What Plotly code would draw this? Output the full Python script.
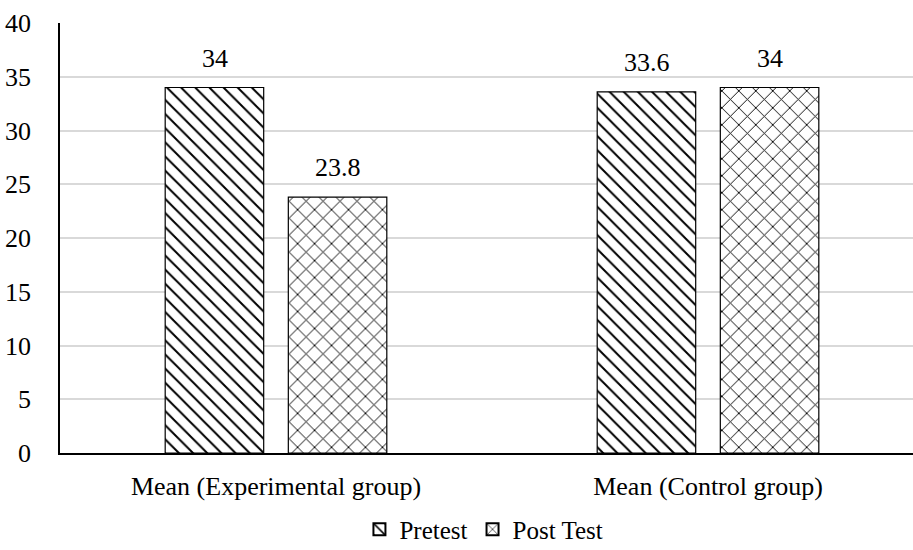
import plotly.graph_objects as go

categories = ["Mean (Experimental group)", "Mean (Control group)"]
pretest = [34, 33.6]
posttest = [23.8, 34]
series_names = ["Pretest", "Post Test"]
y_ticks = [0, 5, 10, 15, 20, 25, 30, 35, 40]

FONT = "'Times New Roman', 'Liberation Serif', serif"
fs = 26

fig = go.Figure()
fig.add_trace(go.Bar(
    name=series_names[0], x=categories, y=pretest,
    marker=dict(color="white", line=dict(color="black", width=1.2),
                pattern=dict(shape="\\", fgcolor="black", bgcolor="white", size=10,
                             solidity=0.2, fgopacity=1)),
))
fig.add_trace(go.Bar(
    name=series_names[1], x=categories, y=posttest,
    marker=dict(color="white", line=dict(color="black", width=1.2),
                pattern=dict(shape="x", fgcolor="black", bgcolor="white", size=12,
                             solidity=0.15, fgopacity=1)),
))

# value labels above bars (offset to each bar's slot within the group)
slot_px = 61.5
for series, shift in ((pretest, -slot_px), (posttest, slot_px)):
    for cat, v in zip(categories, series):
        fig.add_annotation(x=cat, y=v, text=f"{v:g}", showarrow=False,
                           xshift=shift, yshift=13, yanchor="bottom",
                           font=dict(family=FONT, size=fs, color="black"))

fig.update_layout(
    width=913, height=550,
    margin=dict(l=60, r=0, t=23, b=97, autoexpand=False),
    paper_bgcolor="white", plot_bgcolor="white",
    barmode="group", bargap=0.43, bargroupgap=0.2,
    font=dict(family=FONT, size=fs, color="black"),
    showlegend=True,
    legend=dict(orientation="h", x=0.497, xanchor="center",
                yref="paper", y=-0.178, yanchor="middle",
                bgcolor="rgba(0,0,0,0)",
                font=dict(family=FONT, size=25), itemwidth=30, itemsizing="constant"),
)
fig.update_xaxes(
    type="category", range=[-0.5, 1.4745],
    showline=True, linecolor="black", linewidth=1.5,
    ticks="", showgrid=False, ticklabelstandoff=9,
    tickfont=dict(family=FONT, size=fs, color="black"),
)
fig.update_yaxes(
    range=[0, 40], tickvals=y_ticks,
    showline=True, linecolor="black", linewidth=1.5,
    showgrid=True, gridcolor="#d9d9d9", gridwidth=1.5,
    ticks="", ticklabelstandoff=22, zeroline=False,
    tickfont=dict(family=FONT, size=fs, color="black"),
)

fig.write_html("out.html")
